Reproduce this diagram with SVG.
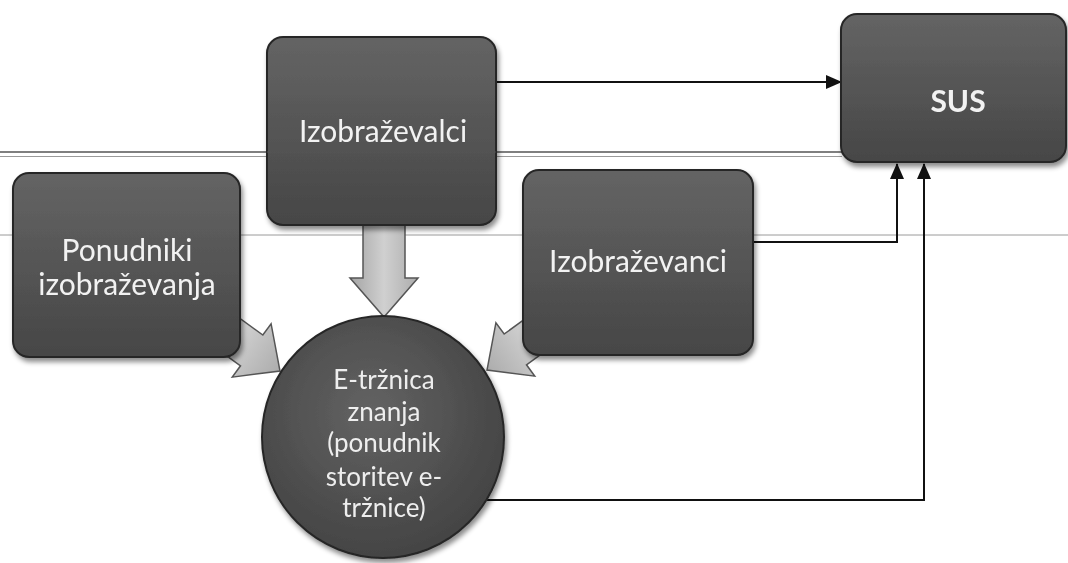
<svg xmlns="http://www.w3.org/2000/svg" width="1068" height="563" viewBox="0 0 1068 563">
<style>
.box{fill:url(#boxg);stroke:#262626;stroke-width:2}
.lbl{font-family:Lato,"Liberation Sans",sans-serif;font-size:30px;fill:#f2f2f2;text-anchor:middle}
.clbl{font-family:Lato,"Liberation Sans",sans-serif;font-size:26px;fill:#eeeeee;text-anchor:middle}
.bold{font-weight:bold}
.conn{fill:none;stroke:#111;stroke-width:2}
.blk{fill:url(#arrg);stroke:#555;stroke-width:1.5}
.scan1{stroke:#555;stroke-width:1.5}
.scan2{stroke:#9a9a9a;stroke-width:1}
</style>
<defs>
<linearGradient id="boxg" x1="0" y1="0" x2="0" y2="1">
<stop offset="0" stop-color="#646464"/>
<stop offset="1" stop-color="#464646"/>
</linearGradient>
<radialGradient id="circg" cx="0.45" cy="0.4" r="0.6">
<stop offset="0" stop-color="#636363"/>
<stop offset="1" stop-color="#444444"/>
</radialGradient>
<linearGradient id="arrg" x1="0" y1="0" x2="1" y2="0">
<stop offset="0" stop-color="#a4a4a4"/>
<stop offset="0.5" stop-color="#d0d0d0"/>
<stop offset="1" stop-color="#acacac"/>
</linearGradient>
<filter id="sh" x="-10%" y="-10%" width="125%" height="125%">
<feDropShadow dx="2" dy="4" stdDeviation="2.5" flood-color="#000" flood-opacity="0.45"/>
</filter>
<marker id="ah" markerWidth="16" markerHeight="14" refX="15" refY="7" orient="auto" markerUnits="userSpaceOnUse">
<path d="M0,0 L16,7 L0,14 Z" fill="#111"/>
</marker>
</defs>
<rect width="1068" height="563" fill="#ffffff"/>
<g id="scanlines">
<line class="scan1" x1="0" y1="152" x2="842" y2="152"/>
<line class="scan2" x1="0" y1="156.5" x2="842" y2="156.5"/>
<line class="scan2" x1="0" y1="235" x2="1068" y2="235"/>
</g>
<g id="block-arrows">
<g id="arrow-izobrazevalci-down">
<path class="blk" d="M363,215 H405 V278 H418 L384,317 L350,278 H363 Z"/>
</g>
<g id="arrow-ponudniki" transform="translate(280,371) rotate(36)">
<path class="blk" d="M-110,-19 H-35 V-33 L0,0 L-35,33 V19 H-110 Z"/>
</g>
<g id="arrow-izobrazevanci" transform="translate(487,370) rotate(144)">
<path class="blk" d="M-110,-19 H-35 V-33 L0,0 L-35,33 V19 H-110 Z"/>
</g>
</g>
<g id="connectors">
<path class="conn" d="M496,82 H841" marker-end="url(#ah)"/>
<path class="conn" d="M753,242 H897 V164" marker-end="url(#ah)"/>
<path class="conn" d="M487,500 H924 V164" marker-end="url(#ah)"/>
</g>
<g id="node-izobrazevalci" filter="url(#sh)">
<rect class="box" x="267" y="37" width="229" height="188" rx="16"/>
<text class="lbl" x="383" y="142">Izobraževalci</text>
</g>
<line class="scan1" x1="267" y1="152" x2="496" y2="152" stroke-opacity="0.6"/>
<g id="node-ponudniki" filter="url(#sh)">
<rect class="box" x="13" y="173" width="227" height="184" rx="16"/>
<text class="lbl" x="127" y="261">Ponudniki</text>
<text class="lbl" x="127" y="295">izobraževanja</text>
</g>
<g id="node-izobrazevanci" filter="url(#sh)">
<rect class="box" x="523" y="170" width="230" height="185" rx="16"/>
<text class="lbl" x="638" y="272">Izobraževanci</text>
</g>
<g id="node-sus" filter="url(#sh)">
<rect class="box" x="841" y="14" width="225" height="148" rx="16"/>
<text class="lbl bold" x="958" y="112">SUS</text>
</g>
<g id="node-etrznica" filter="url(#sh)">
<circle cx="383" cy="437" r="121" fill="url(#circg)" stroke="#262626" stroke-width="2"/>
<text class="clbl" x="384" y="389">E-tržnica</text>
<text class="clbl" x="384" y="421">znanja</text>
<text class="clbl" x="384" y="452">(ponudnik</text>
<text class="clbl" x="384" y="486">storitev e-</text>
<text class="clbl" x="384" y="517">tržnice)</text>
</g>
</svg>
